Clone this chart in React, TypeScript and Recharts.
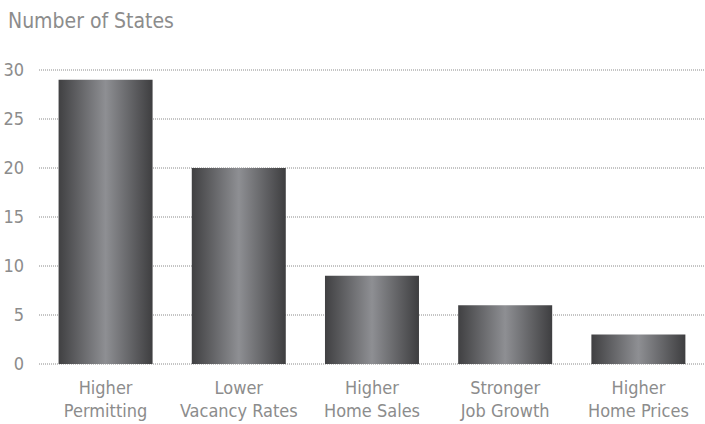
import { BarChart, Bar, XAxis, YAxis, CartesianGrid } from 'recharts'

const categories = ['Higher\nPermitting', 'Lower\nVacancy Rates', 'Higher\nHome Sales', 'Stronger\nJob Growth', 'Higher\nHome Prices']
const states = [29, 20, 9, 6, 3]
const yTicks = [0, 5, 10, 15, 20, 25, 30]

const data = categories.map((name, i) => ({ name, states: states[i] }))

const font = "'Liberation Sans Narrow', 'DejaVu Sans Condensed', sans-serif"
const gray = '#8c8c8c'

function CategoryTick({ x, y, payload }: any) {
  const lines = String(payload.value).split('\n')
  return (
    <text x={x} y={y} textAnchor="middle" fill={gray} fontFamily={font} fontSize={18}>
      {lines.map((l, i) => (
        <tspan key={i} x={x} dy={i === 0 ? 22 : 23}>{l}</tspan>
      ))}
    </text>
  )
}

export default function App() {
  return (
    <div style={{ position: 'absolute', left: 0, top: 0, width: 705, height: 424, background: '#fff' }}>
      <div style={{ position: 'absolute', left: 8, top: 9, fontFamily: font, fontSize: 21, color: gray }}>
        Number of States
      </div>
      <BarChart width={705} height={424} data={data} margin={{ top: 70, right: 0, left: 0, bottom: 0 }} barCategoryGap="14.7%">
        <defs>
          <linearGradient id="barGrad" x1="0" y1="0" x2="1" y2="0">
            <stop offset="0%" stopColor="#404042" />
            <stop offset="50%" stopColor="#8e8f93" />
            <stop offset="100%" stopColor="#3e3e40" />
          </linearGradient>
        </defs>
        <CartesianGrid vertical={false} stroke="#8a8a8a" strokeDasharray="1 1" />
        <XAxis dataKey="name" axisLine={false} tickLine={false} height={60} tick={<CategoryTick />} interval={0} />
        <YAxis
          width={39}
          domain={[0, 30]}
          ticks={yTicks}
          axisLine={false}
          tickLine={false}
          tickSize={0}
          tickMargin={15}
          tick={{ fill: gray, fontFamily: font, fontSize: 18 }}
        />
        <Bar dataKey="states" fill="url(#barGrad)" isAnimationActive={false} />
      </BarChart>
    </div>
  )
}
